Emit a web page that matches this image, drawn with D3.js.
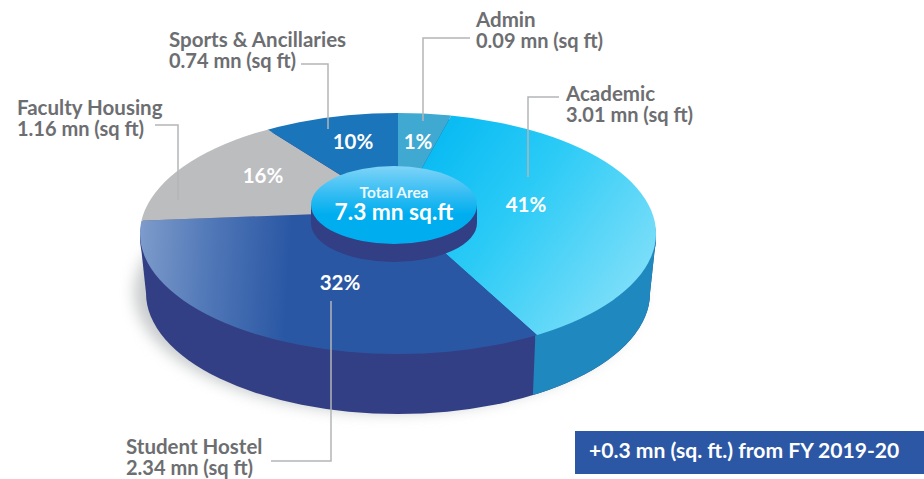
<!DOCTYPE html>
<html>
<head>
<meta charset="utf-8">
<script src="https://cdnjs.cloudflare.com/ajax/libs/d3/7.8.5/d3.min.js"></script>
<style>
  html, body { margin: 0; padding: 0; background: #fff; }
  text { font-family: Lato, "Open Sans", sans-serif; }
</style>
</head>
<body>
<div class="campus-pie"></div>
<script>
// values as printed on the chart
const categories = ["Admin", "Academic", "Student Hostel", "Faculty Housing", "Sports & Ancillaries"]
const areaLabels = ["0.09 mn (sq ft)", "3.01 mn (sq ft)", "2.34 mn (sq ft)", "1.16 mn (sq ft)", "0.74 mn (sq ft)"]
const percents = [1, 41, 32, 16, 10]
// slice widths as they look in the picture (% of the turn, the drawing is not true to the values)
const drawnShare = [8.1, 28.5, 37.8, 9.5, 16.1]

const sliceFill = ["#3fa9d1", "url(#academicGrad)", "url(#hostelGrad)", "#bcbdbf", "#1b75bb"]
const pctAt = [[418, 149], [526, 212], [340, 290], [263, 183], [353, 149]]
const labelAt = [[476, 27], [566, 101], [126, 454], [17, 115], [169, 47]]
const leaders = [
  [[470, 38], [423, 38], [423, 121]],
  [[559, 97], [528, 97], [528, 177]],
  [[271, 461], [331, 461], [331, 301]],
  [[155, 125], [178, 125], [178, 200]],
  [[301, 64], [328, 64], [328, 129]]
]

const w = 924
const h = 479

const svg = d3.select(".campus-pie")
  .append("svg")
    .attr("width", w)
    .attr("height", h)
    .style("display", "block")

const defs = svg.append("defs")

function gradient(id, x1, y1, x2, y2, stops) {
  const g = defs.append("linearGradient")
    .attr("id", id)
    .attr("gradientUnits", "userSpaceOnUse")
    .attr("x1", x1).attr("y1", y1).attr("x2", x2).attr("y2", y2)
  stops.forEach(s => g.append("stop").attr("offset", s[0]).attr("stop-color", s[1]))
}

// ellipse of the top face, the wedges are cut to it
const top_ = { cx: 398, cy: 233.5, rx: 258, ry: 120.5 }
const foot = { cx: 398, cy: 293, rx: 252, ry: 121 }
const apex = [398, 211]   // wedges meet here, above the ellipse centre (perspective)
const hub = { cx: 394, cy: 205, rx: 83, ry: 39, depth: 18 }

// the slice gradients live inside the group moved to the apex
gradient("academicGrad", 450 - apex[0], 130 - apex[1], 650 - apex[0], 280 - apex[1], [[0, "#0bbcf3"], [0.4, "#2ccbf6"], [1, "#80dff9"]])
gradient("hostelGrad", 140 - apex[0], 30, 290 - apex[0], 40, [[0, "#7d9bcb"], [0.45, "#5279b8"], [1, "#2a57a4"]])
gradient("hubGrad", 0, 166, 0, 244, [[0, "#7fd4f8"], [0.35, "#35bdf3"], [0.62, "#00aeef"], [1, "#00aeef"]])

defs.append("filter").attr("id", "soft")
    .attr("x", "-20%").attr("y", "-20%").attr("width", "140%").attr("height", "140%")
  .append("feGaussianBlur").attr("stdDeviation", 7)

defs.append("clipPath").attr("id", "faceClip")
  .append("ellipse")
    .attr("cx", top_.cx).attr("cy", top_.cy).attr("rx", top_.rx).attr("ry", top_.ry)

// the wall of the academic slice starts at this edge
defs.append("clipPath").attr("id", "rightWall")
  .append("polygon").attr("points", "541,200 924,200 924,440 531,440")

// soft shadow to the lower left
svg.append("ellipse")
    .attr("cx", foot.cx - 10).attr("cy", foot.cy - 1)
    .attr("rx", foot.rx + 2).attr("ry", foot.ry)
    .attr("fill", "#c9cccd")
    .attr("filter", "url(#soft)")

function wall(parent, color) {
  const g = parent.append("g").attr("fill", color)
  g.append("ellipse")
    .attr("cx", top_.cx).attr("cy", top_.cy + 4).attr("rx", top_.rx).attr("ry", top_.ry)
  g.append("ellipse")
    .attr("cx", foot.cx).attr("cy", foot.cy).attr("rx", foot.rx).attr("ry", foot.ry)
  g.append("polygon").attr("points", [
    [top_.cx - top_.rx, top_.cy + 4], [top_.cx + top_.rx, top_.cy + 4],
    [foot.cx + foot.rx, foot.cy], [foot.cx - foot.rx, foot.cy]
  ].join(" "))
  return g
}

wall(svg, "#323f84")
wall(svg.append("g").attr("clip-path", "url(#rightWall)"), "#1f88bf")

// top face
const pie = d3.pie().sort(null).value(d => d)
const arc = d3.arc().innerRadius(0).outerRadius(500)

svg.append("g")
    .attr("clip-path", "url(#faceClip)")
  .append("g")
    .attr("transform", `translate(${apex[0]},${apex[1]})`)
  .selectAll("path")
  .data(pie(drawnShare))
  .join("path")
    .attr("d", arc)
    .attr("fill", (d, i) => sliceFill[i])

// centre hub
svg.append("ellipse")
    .attr("cx", hub.cx).attr("cy", hub.cy + hub.depth).attr("rx", hub.rx).attr("ry", hub.ry)
    .attr("fill", "#323f84")
svg.append("rect")
    .attr("x", hub.cx - hub.rx).attr("y", hub.cy)
    .attr("width", hub.rx * 2).attr("height", hub.depth)
    .attr("fill", "#323f84")
svg.append("ellipse")
    .attr("cx", hub.cx).attr("cy", hub.cy).attr("rx", hub.rx).attr("ry", hub.ry)
    .attr("fill", "url(#hubGrad)")

svg.append("text")
    .attr("x", hub.cx).attr("y", 198)
    .attr("text-anchor", "middle")
    .attr("fill", "#e8f8fe")
    .attr("font-size", 15.4)
    .attr("font-weight", 700)
    .text("Total Area")
svg.append("text")
    .attr("x", hub.cx).attr("y", 219.5)
    .attr("text-anchor", "middle")
    .attr("fill", "#fff")
    .attr("font-size", 22.7)
    .attr("font-weight", 700)
    .text("7.3 mn sq.ft")

// percent labels
svg.append("g")
  .selectAll("text")
  .data(percents)
  .join("text")
    .attr("x", (d, i) => pctAt[i][0])
    .attr("y", (d, i) => pctAt[i][1])
    .attr("text-anchor", "middle")
    .attr("fill", "#fff")
    .attr("font-size", 20.5)
    .attr("font-weight", 700)
    .text(d => d + "%")

// leader lines
svg.append("g")
  .selectAll("path")
  .data(leaders)
  .join("path")
    .attr("d", d3.line())
    .attr("fill", "none")
    .attr("stroke", "#b4b5b7")
    .attr("stroke-width", 1.5)

// category labels
const labels = svg.append("g")
  .selectAll("text")
  .data(categories)
  .join("text")
    .attr("fill", "#6d6e71")
    .attr("font-weight", 700)

labels.append("tspan")
    .attr("font-size", 20.5)
    .attr("x", (d, i) => labelAt[i][0])
    .attr("y", (d, i) => labelAt[i][1])
    .text(d => d)
labels.append("tspan")
    .attr("font-size", 20)
    .attr("x", (d, i) => labelAt[i][0])
    .attr("y", (d, i) => labelAt[i][1] + 20.5)
    .text((d, i) => areaLabels[i])

// note box
svg.append("rect")
    .attr("x", 575).attr("y", 431)
    .attr("width", 349).attr("height", 43)
    .attr("fill", "#2b57a4")
svg.append("text")
    .attr("x", 589).attr("y", 458)
    .attr("fill", "#fff")
    .attr("font-size", 21.1)
    .attr("font-weight", 700)
    .text("+0.3 mn (sq. ft.) from FY 2019-20")
</script>
</body>
</html>
